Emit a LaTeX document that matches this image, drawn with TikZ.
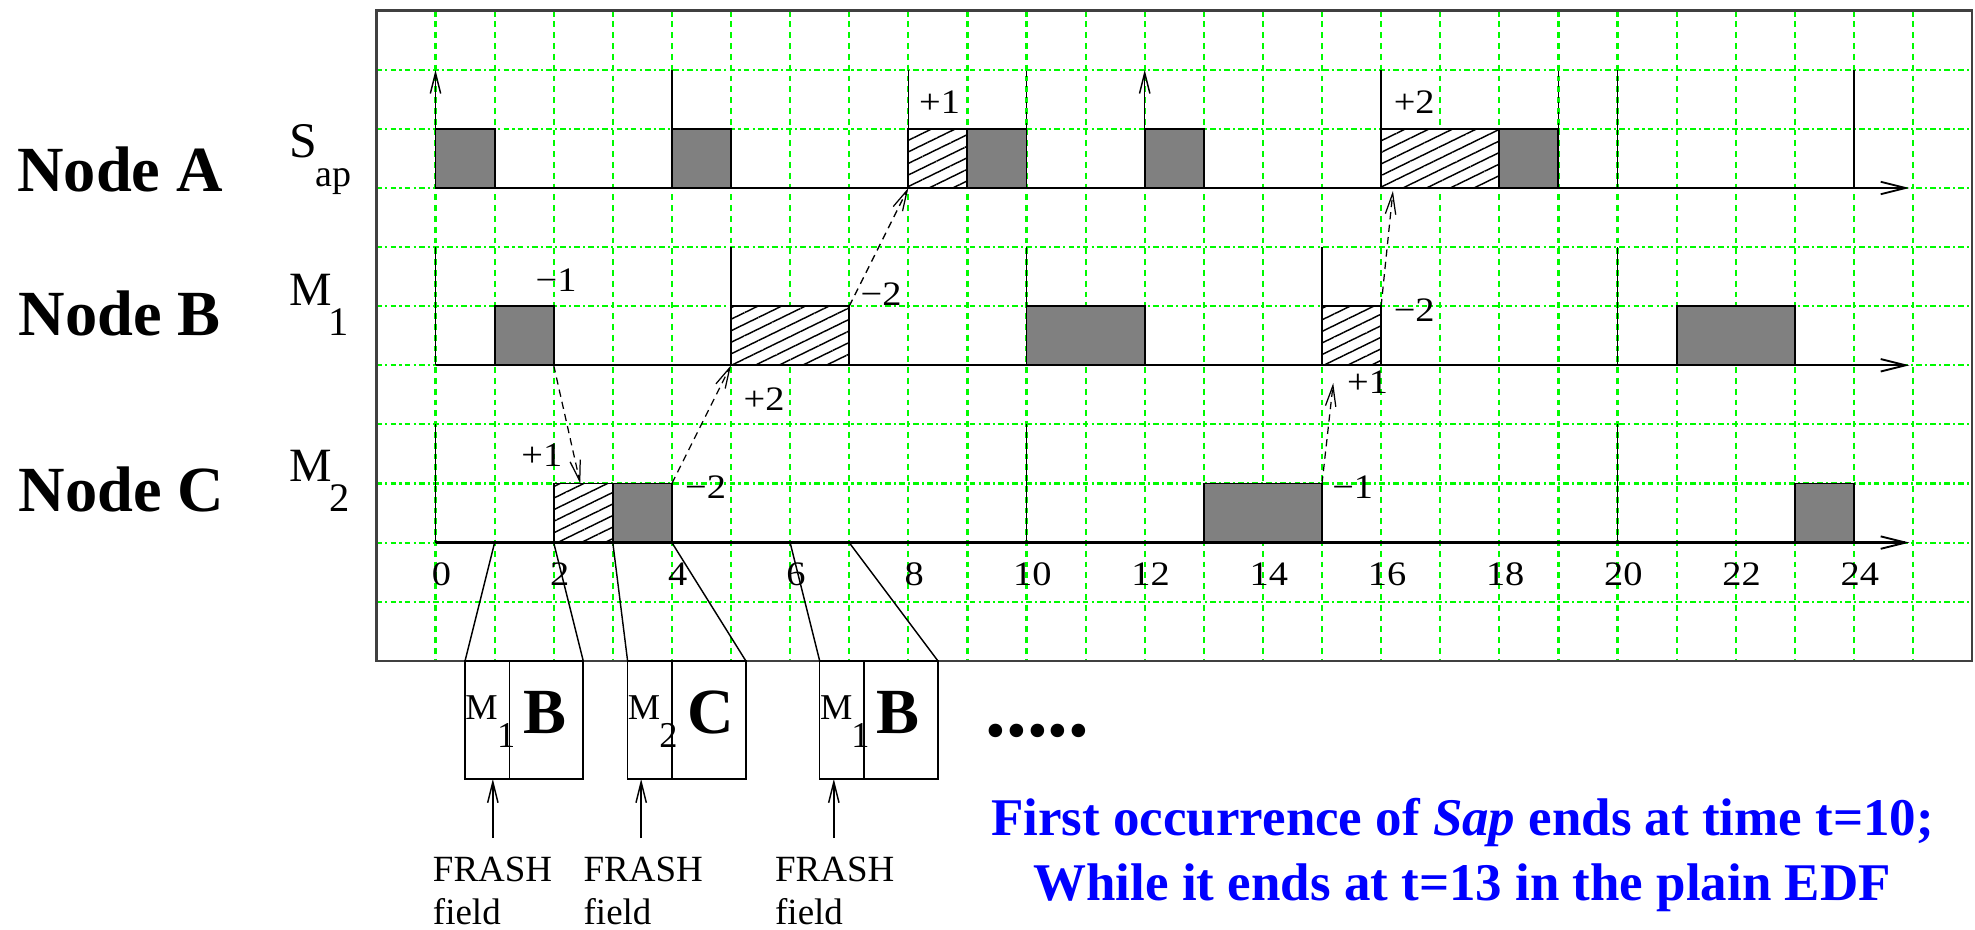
\documentclass[tikz,border=0pt]{standalone}
\usepackage{fontspec}
\setmainfont{Liberation Serif}
\usepackage{graphicx}
\usetikzlibrary{arrows.meta,patterns.meta,calc}

\definecolor{gridgreen}{RGB}{0,250,0}
\definecolor{boxgray}{RGB}{128,128,128}
\definecolor{txtblue}{RGB}{0,0,255}
\newcommand\hs[1]{\scalebox{1.12}[1]{#1}}

\tikzset{
  vgrid/.style={gridgreen, line width=1.05pt, dash pattern=on 2.8pt off 2.4pt},
  hgrid/.style={gridgreen, line width=1.05pt, dash pattern=on 2.8pt off 1.5pt on 1pt off 1.5pt},
  frameline/.style={line width=1.2pt, black!75},
  axisline/.style={line width=1.1pt, -{Straight Barb[length=12pt,width=6pt,line width=0.9pt]}},
  tickline/.style={line width=0.7pt},
  uparrow/.style={line width=0.7pt, -{Straight Barb[length=10pt,width=5pt,line width=0.7pt]}},
  dashtick/.style={line width=0.7pt, dash pattern=on 3pt off 2pt},
  conn/.style={line width=0.6pt, dash pattern=on 3.5pt off 2.5pt, -{Straight Barb[length=10pt,width=5pt,line width=0.6pt]}},
  gbox/.style={draw, line width=0.9pt, fill=boxgray, rectangle, inner sep=0pt, outer sep=0pt, anchor=south west, minimum height=1cm},
  hbox/.style={draw, line width=0.9pt, preaction={fill=white}, pattern={Lines[angle=26,distance=5pt,line width=0.7pt]}, rectangle, inner sep=0pt, outer sep=0pt, anchor=south west, minimum height=1cm},
  pbox/.style={draw, line width=0.8pt, fill=white, rectangle, inner sep=0pt, outer sep=0pt, anchor=south west, minimum height=2cm},
  numlab/.style={font=\fontsize{16.5}{19}\selectfont, inner sep=0pt, anchor=base},
  nodelab/.style={font=\bfseries\fontsize{31}{36}\selectfont, inner sep=0pt, anchor=base west},
  biglet/.style={font=\fontsize{23}{27}\selectfont, inner sep=0pt, anchor=base west},
  sublet/.style={font=\fontsize{19.5}{23}\selectfont, inner sep=0pt, anchor=base west},
  pklet/.style={font=\fontsize{17.5}{20}\selectfont, inner sep=0pt, anchor=base west},
  pkbig/.style={font=\bfseries\fontsize{31}{36}\selectfont, inner sep=0pt, anchor=base},
  frash/.style={font=\fontsize{17.8}{20}\selectfont, inner sep=0pt, anchor=base west},
  bluetxt/.style={font=\bfseries\fontsize{25.5}{30}\selectfont, text=txtblue, inner sep=0pt, anchor=base},
}

\begin{document}
\begin{tikzpicture}[x=1cm,y=1cm]
\useasboundingbox[fill=white] (-7.369,-12.555) rectangle (26.049,3.181);

% grid
\foreach \x in {0,...,25} \draw[vgrid] (\x,3) -- (\x,-8);
\foreach \y in {2,1,0,-1,-2,-3,-4,-5,-6,-7} \draw[hgrid] (-1,\y) -- (26,\y);
\draw[frameline] (-1,-8) rectangle (26,3);

% left labels
\node[nodelab] (lA) at (-7.08,-0.06) {Node A};
\node[nodelab] (lB) at (-7.06,-2.49) {Node B};
\node[nodelab] (lC) at (-7.06,-5.48) {Node C};
\node[font=\fontsize{24}{28}\selectfont, inner sep=0pt, anchor=base west] (sS) at (-2.47,0.51) {S};
\node[font=\fontsize{18.3}{22}\selectfont, inner sep=0pt, anchor=base west] (sap) at (-2.04,0.02) {ap};
\node[biglet] (m1M) at (-2.47,-1.98) {M};
\node[sublet] (m1s) at (-1.82,-2.49) {1};
\node[biglet] (m2M) at (-2.47,-4.97) {M};
\node[sublet] (m2s) at (-1.80,-5.48) {2};

% ---------- Sap (Node A) ----------
\draw[uparrow] (0,0) -- (0,2);
\draw[tickline] (4,0) -- (4,2);
\draw[tickline] (8,0) -- (8,2);
\draw[uparrow] (12,0) -- (12,2);
\draw[tickline] (16,0) -- (16,2);
\draw[tickline] (20,0) -- (20,2);
\draw[tickline] (24,0) -- (24,2);
\node[gbox, minimum width=1cm] (a0) at (0,0) {};
\node[gbox, minimum width=1cm] (a4) at (4,0) {};
\node[hbox, minimum width=1cm] (a8h) at (8,0) {};
\node[gbox, minimum width=1cm] (a9) at (9,0) {};
\node[gbox, minimum width=1cm] (a12) at (12,0) {};
\node[hbox, minimum width=2cm] (a16h) at (16,0) {};
\node[gbox, minimum width=1cm] (a18) at (18,0) {};
\draw[dashtick] (a9.north east) -- ($(a9.north east)+(0,1)$);
\draw[dashtick] (a18.north east) -- ($(a18.north east)+(0,1)$);
\coordinate (axA0) at (0,0);
\coordinate (axA1) at (24.94,0);
\draw[axisline] (axA0) -- (axA1);
\node[numlab] (pA1) at (8.53,1.26) {\hs{+1}};
\node[numlab] (pA2) at (16.56,1.26) {\hs{+2}};

% ---------- M1 (Node B) ----------
\foreach \t in {0,5,10,15,20} \draw[tickline] (\t,-3) -- (\t,-1);
\node[gbox, minimum width=1cm] (b1) at (1,-3) {};
\node[hbox, minimum width=2cm] (b5h) at (5,-3) {};
\node[gbox, minimum width=2cm] (b10) at (10,-3) {};
\node[hbox, minimum width=1cm] (b15h) at (15,-3) {};
\node[gbox, minimum width=2cm] (b21) at (21,-3) {};
\coordinate (axB0) at (0,-3);
\coordinate (axB1) at (24.94,-3);
\draw[axisline] (axB0) -- (axB1);
\node[numlab] (pB1) at (2.04,-1.75) {\hs{−1}};
\node[numlab] (pB2) at (7.54,-1.98) {\hs{−2}};
\node[numlab] (pB3) at (16.56,-2.26) {\hs{−2}};
\node[numlab] (pB4) at (5.56,-3.76) {\hs{+2}};
\node[numlab] (pB5) at (15.77,-3.47) {\hs{+1}};

% ---------- M2 (Node C) ----------
\foreach \t in {0,10,20} \draw[tickline] (\t,-6) -- (\t,-4);
\node[hbox, minimum width=1cm] (c2h) at (2,-6) {};
\node[gbox, minimum width=1cm] (c3) at (3,-6) {};
\node[gbox, minimum width=2cm] (c13) at (13,-6) {};
\node[gbox, minimum width=1cm] (c23) at (23,-6) {};
\coordinate (axC0) at (0,-6);
\coordinate (axC1) at (24.94,-6);
\draw[axisline] (axC0) -- (axC1);
\node[numlab] (pC1) at (1.80,-4.72) {\hs{+1}};
\node[numlab] (pC2) at (4.57,-5.25) {\hs{−2}};
\node[numlab] (pC3) at (15.52,-5.25) {\hs{−1}};

% time numbers
\foreach \n in {0,2,...,24} \node[numlab] (n\n) at (\n+0.1,-6.72) {\hs{\n}};

% dashed connectors
\draw[conn] (b1.south east) -- ($(c2h.north west)+(0.45,0)$);
\draw[conn] (c3.north east) -- (b5h.south west);
\draw[conn] (b5h.north east) -- (a8h.south west);
\draw[conn] (b15h.north east) -- ($(a16h.south west)+(0.2,-0.05)$);
\draw[conn] (c13.north east) -- ($(b15h.south west)+(0.19,-0.3)$);

% packets
\node[pbox, minimum width=0.75cm] (k1l) at (0.5,-10) {};
\node[pbox, minimum width=1.25cm] (k1r) at (1.25,-10) {};
\node[pbox, minimum width=0.75cm] (k2l) at (3.25,-10) {};
\node[pbox, minimum width=1.25cm] (k2r) at (4.0,-10) {};
\node[pbox, minimum width=0.75cm] (k3l) at (6.5,-10) {};
\node[pbox, minimum width=1.25cm] (k3r) at (7.25,-10) {};

\coordinate (s1) at (1,-6);
\coordinate (s6) at (6,-6);
\coordinate (s7) at (7,-6);
\draw[tickline] (s1) -- (k1l.north west);
\draw[tickline] (b1.south east |- axC0) -- (k1r.north east);
\draw[tickline] (c2h.south east) -- (k2l.north west);
\draw[tickline] (c3.south east) -- (k2r.north east);
\draw[tickline] (s6) -- (k3l.north west);
\draw[tickline] (s7) -- (k3r.north east);

\node[pklet] (k1M) at (0.50,-8.99) {M};
\node[pklet] (k1s) at (1.035,-9.47) {1};
\node[pkbig] (k1B) at (1.86,-9.23) {B};
\node[pklet] (k2M) at (3.25,-8.99) {M};
\node[pklet] (k2s) at (3.78,-9.47) {2};
\node[pkbig] (k2C) at (4.66,-9.23) {C};
\node[pklet] (k3M) at (6.50,-8.99) {M};
\node[pklet] (k3s) at (7.03,-9.47) {1};
\node[pkbig] (k3B) at (7.83,-9.23) {B};
\node[font=\bfseries\fontsize{40}{44}\selectfont, inner sep=0pt, anchor=base west] (dots) at (9.3,-9.28) {.....};

% FRASH field arrows and labels
\coordinate (f1) at (0.97,-11);
\coordinate (f2) at (3.48,-11);
\coordinate (f3) at (6.74,-11);
\draw[uparrow] (f1) -- (f1 |- k1l.south);
\draw[uparrow] (f2) -- (f2 |- k2l.south);
\draw[uparrow] (f3) -- (f3 |- k3l.south);
\node[frash] (fr1) at (-0.05,-11.74) {FRASH};
\node[frash] (fd1) at (-0.05,-12.47) {field};
\node[frash] (fr2) at (2.5,-11.74) {FRASH};
\node[frash] (fd2) at (2.5,-12.47) {field};
\node[frash] (fr3) at (5.74,-11.74) {FRASH};
\node[frash] (fd3) at (5.74,-12.47) {field};

% blue note
\node[bluetxt] (note1) at (17.38,-10.96) {First occurrence of \textit{Sap} ends at time t=10;};
\node[bluetxt] (note2) at (17.37,-12.06) {While it ends at t=13 in the plain EDF};
\end{tikzpicture}
\end{document}
